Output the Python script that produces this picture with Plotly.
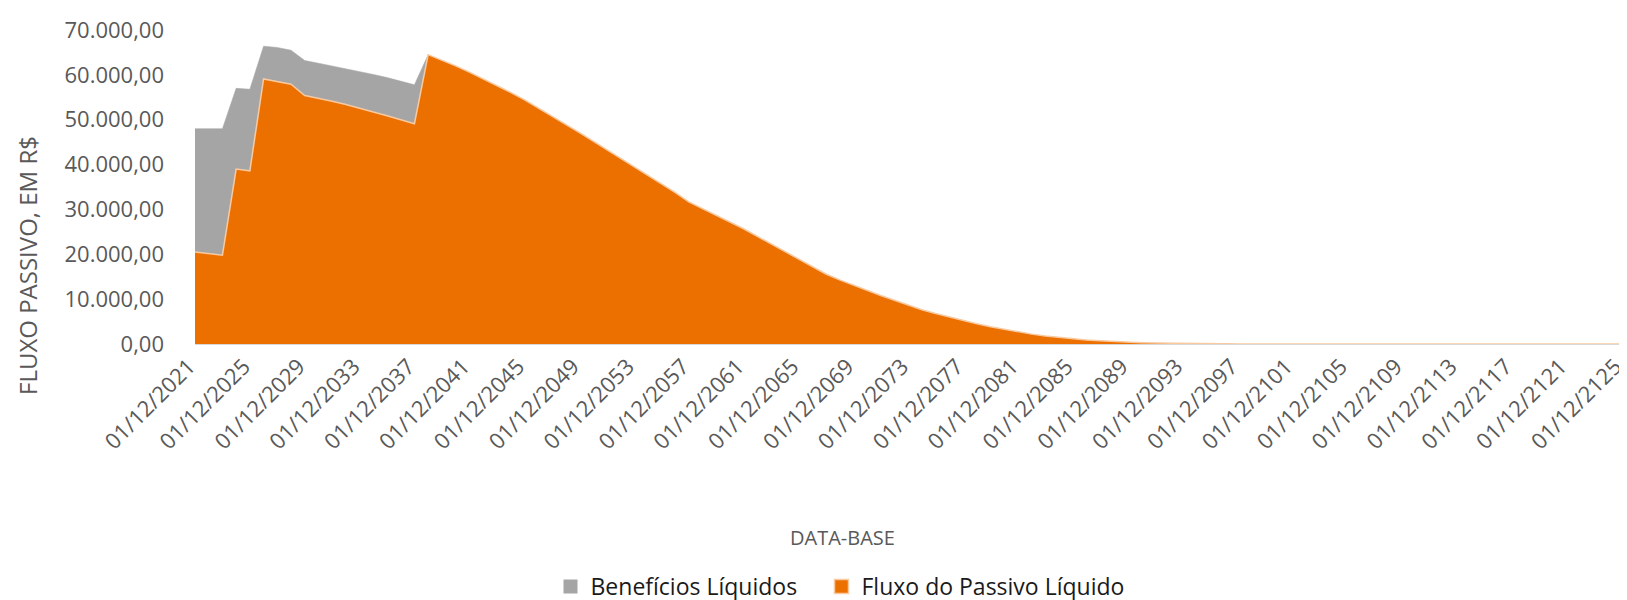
import plotly.graph_objects as go

years = list(range(2021, 2127))
tick_years = list(range(2021, 2126, 4))
tick_labels = ["01/12/%d" % y for y in tick_years]

beneficios_years = list(range(2021, 2039))
beneficios = [48000, 48000, 48000, 57000, 56800, 66400, 66100, 65500, 63200,
              62600, 62000, 61400, 60700, 60100, 59400, 58600, 57800, 64500]

fluxo = [20500, 20150, 19800, 39000, 38600, 59100, 58500, 57900, 55400, 54800,
         54100, 53400, 52600, 51800, 50900, 50000, 49100, 64500, 63300, 62000,
         60600, 59100, 57700, 56100, 54500, 52700, 50900, 49100, 47200, 45300,
         43400, 41500, 39600, 37700, 35800, 33800, 31700, 30200, 28700, 27200,
         25700, 24000, 22300, 20600, 18900, 17200, 15600, 14300, 13100, 11900,
         10800, 9750, 8700, 7650, 6800, 6000, 5200, 4500, 3850, 3250,
         2700, 2200, 1800, 1450, 1150, 900, 700, 530, 400, 290,
         210, 150, 105, 75, 50, 35, 24, 16, 10, 7,
         5, 3, 2, 1] + [0] * 22

names = ["Benefícios Líquidos", "Fluxo do Passivo Líquido"]
GRAY = "#A5A5A5"
ORANGE = "#EC7000"
ORANGE_LINE = "#F9C9A0"
FONT = "Open Sans"
TXT = "#595959"

fig = go.Figure()
fig.add_trace(go.Scatter(x=beneficios_years, y=beneficios, mode="lines", fill="tozeroy",
                         fillcolor=GRAY, line=dict(color=GRAY, width=0.5),
                         showlegend=False, hoverinfo="skip"))
fig.add_trace(go.Scatter(x=years, y=fluxo, mode="lines", fill="tozeroy",
                         fillcolor=ORANGE, line=dict(color=ORANGE_LINE, width=1.5),
                         showlegend=False, hoverinfo="skip"))
# legend entries
fig.add_trace(go.Scatter(x=[None], y=[None], mode="markers", name=names[0],
                         legend="legend",
                         marker=dict(symbol="square", size=14, color=GRAY)))
fig.add_trace(go.Scatter(x=[None], y=[None], mode="markers", name=names[1],
                         legend="legend2",
                         marker=dict(symbol="square", size=14, color=ORANGE,
                                     line=dict(color=ORANGE_LINE, width=1.5))))

L, R, T, B = 187, 0, 22, 260
W, H = 1627, 600
pw = W - L - R
ph = H - T - B

def px(x):
    return (x - L) / pw

def py(y):
    return (H - B - y) / ph

leg_common = dict(orientation="h", xanchor="left", y=py(586), yanchor="middle",
                  font=dict(size=23, color="#1A1A1A", family=FONT),
                  itemclick=False, bgcolor="rgba(0,0,0,0)")

fig.update_layout(
    width=W, height=H, autosize=False,
    margin=dict(l=L, r=R, t=T, b=B),
    plot_bgcolor="white", paper_bgcolor="white",
    separators=",.",
    font=dict(family=FONT, color=TXT, size=20),
    xaxis=dict(range=[2021, 2126], tickmode="array", tickvals=tick_years,
               ticktext=tick_labels, tickangle=-45, showgrid=False, zeroline=False,
               showline=True, linecolor="#D9D9D9", linewidth=1, ticks="",
               ticklabelshift=-6,
               tickfont=dict(size=22, color=TXT, family=FONT)),
    yaxis=dict(range=[0, 70000], tickmode="array",
               tickvals=[0, 10000, 20000, 30000, 40000, 50000, 60000, 70000],
               tickformat=",.2f", showgrid=False, zeroline=False, showline=False,
               ticks="", ticklabelstandoff=30,
               tickfont=dict(size=22, color=TXT, family=FONT)),
    legend=dict(x=px(542.5), **leg_common),
    legend2=dict(x=px(813.5), **leg_common),
    annotations=[
        dict(text="FLUXO PASSIVO, EM R$", xref="paper", yref="paper",
             x=px(20), y=py(261), xanchor="center", yanchor="middle",
             textangle=-90, showarrow=False, borderpad=0,
             font=dict(size=24, color=TXT, family=FONT)),
        dict(text="DATA-BASE", xref="paper", yref="paper",
             x=px(834), y=py(536), xanchor="center", yanchor="middle",
             showarrow=False, font=dict(size=20, color=TXT, family=FONT)),
    ],
)

fig.write_html("out.html")
